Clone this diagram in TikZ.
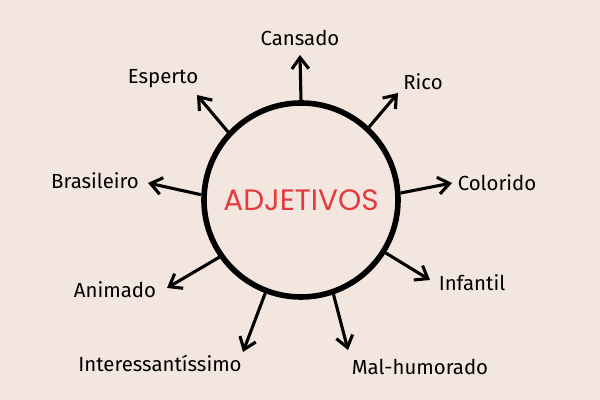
\documentclass[tikz,border=0pt]{standalone}
\usepackage{fontspec}
\setmainfont{Fira Sans}
\newfontfamily\titlefont{Poppins}
\usetikzlibrary{arrows.meta}
\definecolor{paper}{HTML}{F3E6DF}
\definecolor{adjred}{HTML}{E23A3F}
\tikzset{arr/.style={line width=2.2pt,-{Straight Barb[length=8pt,width=12pt]}}}
\begin{document}
\begin{tikzpicture}
            \fill[paper] (0,0) rectangle (15,10);
            \useasboundingbox (0,0) rectangle (15,10);
            \node[circle,draw,line width=4pt,minimum size=4.85cm,text=adjred,font=\titlefont\fontsize{21}{24}\selectfont] (adj) at (7.525,5) {ADJETIVOS};
            \begin{scope}[every node/.style={font=\fontsize{14.5}{17}\selectfont}]
                \node (cansado) at (7.5,9.05) {Cansado};
                \node (rico) at (10.575,7.95) {Rico};
                \node (colorido) at (12.425,5.425) {Colorido};
                \node (infantil) at (11.8,2.925) {Infantil};
                \node (mal) at (10.5,0.825) {Mal-humorado};
                \node (inter) at (4.0,0.925) {Interessantíssimo};
                \node (animado) at (2.875,2.75) {Animado};
                \node (brasileiro) at (2.375,5.475) {Brasileiro};
                \node (esperto) at (4.075,8.025) {Esperto};
            \end{scope}
            \coordinate (t1) at (7.5,8.625);
            \coordinate (t2) at (9.95,7.675);
            \coordinate (t3) at (11.3,5.425);
            \coordinate (t4) at (10.75,3.0);
            \coordinate (t5) at (8.7,1.25);
            \coordinate (t6) at (6.075,1.2);
            \coordinate (t7) at (4.175,2.8);
            \coordinate (t8) at (3.7,5.425);
            \coordinate (t9) at (4.925,7.625);
            \draw[arr] (adj.90) -- (t1);
            \draw[arr] (adj.47.5) -- (t2);
            \draw[arr] (adj.4.6) -- (t3);
            \draw[arr] (adj.-32.6) -- (t4);
            \draw[arr] (adj.-71.7) -- (t5);
            \draw[arr] (adj.-111.4) -- (t6);
            \draw[arr] (adj.-145.1) -- (t7);
            \draw[arr] (adj.177) -- (t8);
            \draw[arr] (adj.137.8) -- (t9);
        \end{tikzpicture}
\end{document}
